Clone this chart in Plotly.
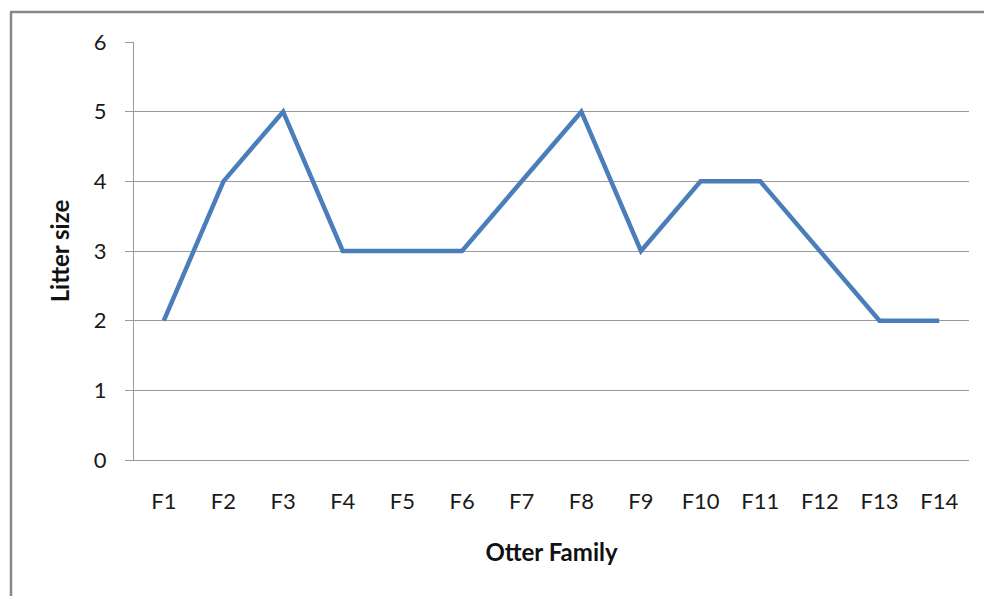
import plotly.graph_objects as go

families = ["F1", "F2", "F3", "F4", "F5", "F6", "F7", "F8", "F9", "F10", "F11", "F12", "F13", "F14"]
litter_size = [2, 4, 5, 3, 3, 3, 4, 5, 3, 4, 4, 3, 2, 2]
y_ticks = [0, 1, 2, 3, 4, 5, 6]

W, H = 984, 596
L, R, T, B = 134, 15, 42, 136
pw, ph = W - L - R, H - T - B

def px_x(p):
    return (p - L) / pw

def px_y(p):
    return (H - B - p) / ph

fig = go.Figure()
fig.add_trace(go.Scatter(
    x=families, y=litter_size, mode="lines",
    line=dict(color="#4A7EBB", width=4.5),
    hoverinfo="x+y",
))

font = "Lato, Carlito, 'Noto Sans', sans-serif"

fig.update_layout(
    width=W, height=H,
    margin=dict(l=L, r=R, t=T, b=B, pad=0),
    paper_bgcolor="white", plot_bgcolor="white",
    showlegend=False,
    font=dict(family=font, size=22, color="#1a1a1a"),
    xaxis=dict(
        type="category", range=[-0.5, 13.5],
        showgrid=False, zeroline=False,
        showline=True, linecolor="#9A9A9A", linewidth=1, ticks="",
        tickfont=dict(size=22, color="#1a1a1a"),
        ticklabelstandoff=22,
        title=dict(text="<b>Otter Family</b>", font=dict(size=24, color="#111111"), standoff=30),
    ),
    yaxis=dict(
        range=[0, 6], tickvals=y_ticks,
        showgrid=True, gridcolor="#9A9A9A", gridwidth=1,
        zeroline=False,
        showline=True, linecolor="#9A9A9A", linewidth=1,
        ticks="outside", ticklen=8, tickcolor="#9A9A9A", tickwidth=1,
        tickfont=dict(size=22, color="#1a1a1a"),
        ticklabelstandoff=14,
        title=dict(text="<b>Litter size</b>", font=dict(size=24, color="#111111"), standoff=17),
    ),
    shapes=[
        dict(type="line", xref="paper", yref="paper",
             x0=px_x(11), x1=px_x(11), y0=px_y(12), y1=px_y(600),
             line=dict(color="#888888", width=2.5)),
        dict(type="line", xref="paper", yref="paper",
             x0=px_x(10), x1=px_x(990), y0=px_y(12), y1=px_y(12),
             line=dict(color="#888888", width=2.5)),
    ],
)

fig.write_html(
    "out.html",
    config={"displayModeBar": False},
    post_script="document.body.style.margin='0';document.body.style.overflow='hidden';",
)
